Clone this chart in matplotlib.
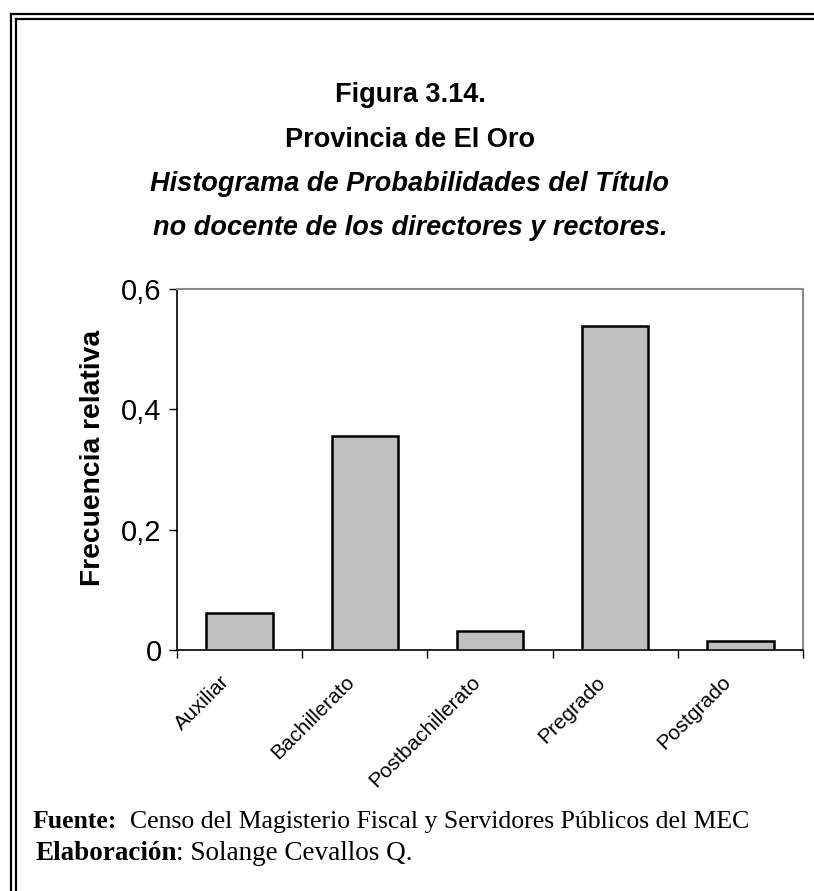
import matplotlib
matplotlib.use("Agg")
import matplotlib.pyplot as plt
from matplotlib.lines import Line2D
from matplotlib.transforms import ScaledTranslation

categories = ["Auxiliar", "Bachillerato", "Postbachillerato", "Pregrado", "Postgrado"]
values = [0.061, 0.355, 0.031, 0.539, 0.015]
yticks = [0, 0.2, 0.4, 0.6]
ytick_labels = ["0", "0,2", "0,4", "0,6"]

W, H = 814, 891
fig = plt.figure(figsize=(W / 100, H / 100), dpi=100)
fig.patch.set_facecolor("white")

def px(x, y):
    return x / W, 1 - y / H

# double frame (extends beyond right/bottom edges)
for off in (10.5, 15.5):
    x0, y0 = px(off, off + 3.5)
    fig.add_artist(Line2D([x0, x0], [y0, -0.05], color="black", lw=1.6, transform=fig.transFigure))
    fig.add_artist(Line2D([x0, 1.05], [y0, y0], color="black", lw=1.6, transform=fig.transFigure))

sans = "Liberation Sans"
serif = "Liberation Serif"
tsize = 19.5
cx = 410 / W
fig.text(cx, 1 - 95 / H, "Figura 3.14.", ha="center", va="center", fontsize=tsize, fontweight="bold", family=sans)
fig.text(cx, 1 - 140 / H, "Provincia de El Oro", ha="center", va="center", fontsize=tsize, fontweight="bold", family=sans)
fig.text(cx, 1 - 184 / H, "Histograma de Probabilidades del Título", ha="center", va="center", fontsize=tsize, fontweight="bold", style="italic", family=sans)
fig.text(cx, 1 - 228 / H, "no docente de los directores y rectores.", ha="center", va="center", fontsize=tsize, fontweight="bold", style="italic", family=sans)

left, right = 177 / W, 803 / W
top, bottom = 1 - 289 / H, 1 - 650 / H
ax = fig.add_axes([left, bottom, right - left, top - bottom])

x = list(range(len(categories)))
ax.bar(x, values, width=0.53, color="#c0c0c0", edgecolor="black", linewidth=1.8, zorder=3)
ax.set_xlim(-0.5, len(categories) - 0.5)
ax.set_ylim(0, 0.6)

ax.set_yticks(yticks)
ax.set_yticklabels(ytick_labels, family=sans, fontsize=21)
ax.tick_params(axis="y", direction="out", length=6, width=1, pad=5)

ax.set_xticks([i - 0.5 for i in range(len(categories) + 1)])
ax.set_xticklabels([])
ax.tick_params(axis="x", direction="out", length=6, width=1)
ax.set_xticks(x, minor=True)
ax.set_xticklabels(categories, minor=True, rotation=45, ha="right", va="center",
                   rotation_mode="anchor", family=sans, fontsize=15)
ax.tick_params(axis="x", which="minor", length=0, pad=21)
shift = ScaledTranslation(-13 / 100, 0, fig.dpi_scale_trans)
for lab in ax.get_xticklabels(minor=True):
    lab.set_transform(lab.get_transform() + shift)

for s in ("left", "bottom"):
    ax.spines[s].set_color("black")
    ax.spines[s].set_linewidth(1.2)
for s in ("top", "right"):
    ax.spines[s].set_color("#8c8c8c")
    ax.spines[s].set_linewidth(1.5)

fig.text(93 / W, 1 - 458 / H, "Frecuencia relativa", rotation=90, ha="center", va="center",
         family=sans, fontsize=20.3, fontweight="bold")

# footer
fig.canvas.draw()
r = fig.canvas.get_renderer()
t1 = fig.text(33 / W, 1 - 822 / H, "Fuente:", ha="left", va="center", fontsize=18.5, fontweight="bold", family=serif)
bb1 = t1.get_window_extent(renderer=r)
fig.text((bb1.x1 + 13) / W, 1 - 822 / H, "Censo del Magisterio Fiscal y Servidores Públicos del MEC", ha="left", va="center", fontsize=18.5, family=serif)
t2 = fig.text(35 / W, 1 - 853 / H, "Elaboración", ha="left", va="center", fontsize=19.5, fontweight="bold", family=serif)
bb2 = t2.get_window_extent(renderer=r)
fig.text(bb2.x1 / W, 1 - 853 / H, ": Solange Cevallos Q.", ha="left", va="center", fontsize=19.5, family=serif)

fig.savefig("out.png", dpi=100, facecolor="white")
